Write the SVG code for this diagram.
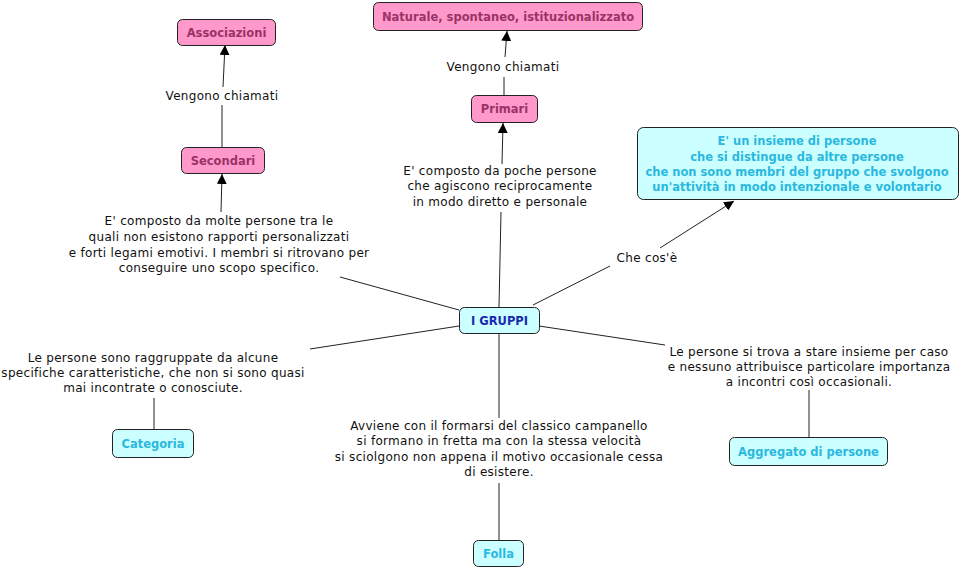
<svg xmlns="http://www.w3.org/2000/svg" width="964" height="568" viewBox="0 0 964 568">
<style>
.pink rect{fill:#ff99cc;stroke:#222;stroke-width:1}
.pink text{fill:#993366}
.cyan rect{fill:#ccffff;stroke:#222;stroke-width:1}
.cyan text{fill:#2ab8e0}
.node text{font-family:"DejaVu Sans",Verdana,sans-serif;font-weight:bold;font-size:11.5px;text-anchor:middle}
.lbl{font-family:"DejaVu Sans",Verdana,sans-serif;font-size:12px;letter-spacing:0.3px;fill:#111;text-anchor:middle}
#conn line{stroke:#222;stroke-width:1}
</style>
<defs>
<marker id="arr" markerUnits="userSpaceOnUse" markerWidth="10" markerHeight="10" refX="10" refY="5" orient="auto" viewBox="0 0 10 10">
<path d="M0,0 L10,5 L0,10 z" fill="#000"/>
</marker>
</defs>
<rect width="964" height="568" fill="#fff"/>
<g id="conn">
<line x1="223" y1="87" x2="225" y2="45" marker-end="url(#arr)"/>
<line x1="222" y1="105" x2="222" y2="147"/>
<line x1="221" y1="212" x2="222" y2="174" marker-end="url(#arr)"/>
<line x1="340" y1="277" x2="459" y2="310"/>
<line x1="502" y1="164" x2="503" y2="123" marker-end="url(#arr)"/>
<line x1="501" y1="212" x2="499" y2="307"/>
<line x1="504" y1="95" x2="504" y2="77"/>
<line x1="505" y1="57" x2="507" y2="31" marker-end="url(#arr)"/>
<line x1="533" y1="305" x2="610" y2="266"/>
<line x1="660" y1="248" x2="734" y2="201" marker-end="url(#arr)"/>
<line x1="459" y1="326" x2="310" y2="349"/>
<line x1="154" y1="398" x2="154" y2="429"/>
<line x1="539" y1="326" x2="665" y2="345"/>
<line x1="809" y1="390" x2="809" y2="437"/>
<line x1="499" y1="333" x2="499" y2="418"/>
<line x1="499" y1="483" x2="499" y2="540"/>
</g>
<g id="labels">
<text class="lbl" x="222" y="100">Vengono chiamati</text>
<text class="lbl" x="503" y="71">Vengono chiamati</text>
<text class="lbl" x="219" y="225">E' composto da molte persone tra le</text>
<text class="lbl" x="219" y="241">quali non esistono rapporti personalizzati</text>
<text class="lbl" x="219" y="257">e forti legami emotivi. I membri si ritrovano per</text>
<text class="lbl" x="219" y="272">conseguire uno scopo specifico.</text>
<text class="lbl" x="500" y="175">E' composto da poche persone</text>
<text class="lbl" x="500" y="190">che agiscono reciprocamente</text>
<text class="lbl" x="500" y="206">in modo diretto e personale</text>
<text class="lbl" x="647" y="262">Che cos'è</text>
<text class="lbl" x="153" y="362">Le persone sono raggruppate da alcune</text>
<text class="lbl" x="153" y="377">specifiche caratteristiche, che non si sono quasi</text>
<text class="lbl" x="153" y="392">mai incontrate o conosciute.</text>
<text class="lbl" x="809" y="356">Le persone si trova a stare insieme per caso</text>
<text class="lbl" x="809" y="371">e nessuno attribuisce particolare importanza</text>
<text class="lbl" x="809" y="386">a incontri così occasionali.</text>
<text class="lbl" x="499" y="430">Avviene con il formarsi del classico campanello</text>
<text class="lbl" x="499" y="445">si formano in fretta ma con la stessa velocità</text>
<text class="lbl" x="499" y="461">si sciolgono non appena il motivo occasionale cessa</text>
<text class="lbl" x="499" y="476">di esistere.</text>
</g>
<g id="n-associazioni" class="node pink"><rect x="177.5" y="19.5" width="98" height="26" rx="5"/><text x="226.5" y="37">Associazioni</text></g>
<g id="n-naturale" class="node pink"><rect x="373.5" y="2.5" width="269" height="28" rx="5"/><text x="508" y="21">Naturale, spontaneo, istituzionalizzato</text></g>
<g id="n-primari" class="node pink"><rect x="471.5" y="95.5" width="66" height="27" rx="5"/><text x="504.5" y="113">Primari</text></g>
<g id="n-secondari" class="node pink"><rect x="181.5" y="147.5" width="83" height="26" rx="5"/><text x="223" y="165">Secondari</text></g>
<g id="n-checose" class="node cyan"><rect x="637.5" y="127.5" width="321" height="72" rx="6"/>
<text x="797" y="145">E' un insieme di persone</text>
<text x="797" y="161">che si distingue da altre persone</text>
<text x="797" y="176">che non sono membri del gruppo che svolgono</text>
<text x="797" y="191">un'attività in modo intenzionale e volontario</text></g>
<g id="n-igruppi" class="node cyan"><rect x="459.5" y="307.5" width="80" height="26" rx="5"/><text x="499.5" y="325" style="fill:#1a2bb0">I GRUPPI</text></g>
<g id="n-categoria" class="node cyan"><rect x="112.5" y="429.5" width="81" height="28" rx="5"/><text x="153" y="448">Categoria</text></g>
<g id="n-aggregato" class="node cyan"><rect x="729.5" y="437.5" width="158" height="28" rx="5"/><text x="808.5" y="456">Aggregato di persone</text></g>
<g id="n-folla" class="node cyan"><rect x="473.5" y="540.5" width="50" height="26" rx="5"/><text x="498.5" y="558">Folla</text></g>
</svg>
